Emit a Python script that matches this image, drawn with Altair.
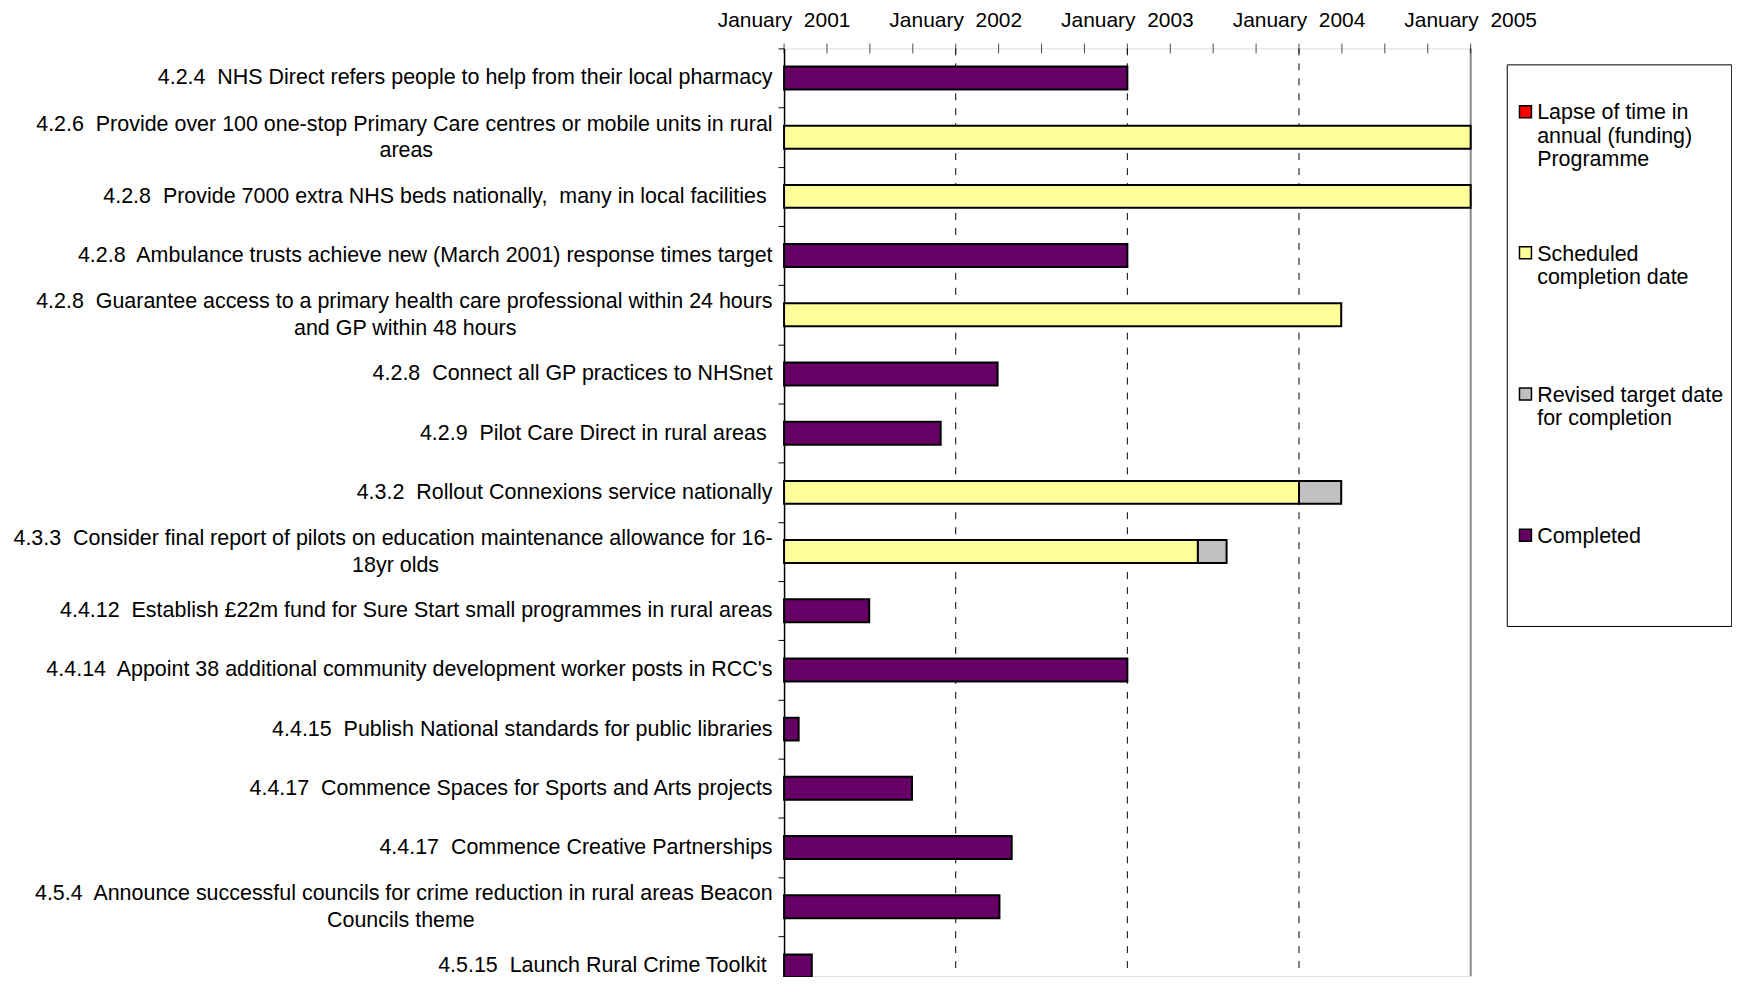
import altair as alt
import pandas as pd

FONT = "Liberation Sans"

# ---------------- data ----------------
tasks = [
    "4.2.4  NHS Direct refers people to help from their local pharmacy",
    "4.2.6  Provide over 100 one-stop Primary Care centres or mobile units in rural|areas",
    "4.2.8  Provide 7000 extra NHS beds nationally,  many in local facilities ",
    "4.2.8  Ambulance trusts achieve new (March 2001) response times target",
    "4.2.8  Guarantee access to a primary health care professional within 24 hours|and GP within 48 hours",
    "4.2.8  Connect all GP practices to NHSnet",
    "4.2.9  Pilot Care Direct in rural areas ",
    "4.3.2  Rollout Connexions service nationally",
    "4.3.3  Consider final report of pilots on education maintenance allowance for 16-|18yr olds",
    "4.4.12  Establish £22m fund for Sure Start small programmes in rural areas",
    "4.4.14  Appoint 38 additional community development worker posts in RCC's",
    "4.4.15  Publish National standards for public libraries",
    "4.4.17  Commence Spaces for Sports and Arts projects",
    "4.4.17  Commence Creative Partnerships",
    "4.5.4  Announce successful councils for crime reduction in rural areas Beacon|Councils theme",
    "4.5.15  Launch Rural Crime Toolkit ",
]

status_names = [
    "Lapse of time in annual (funding) Programme",
    "Scheduled completion date",
    "Revised target date for completion",
    "Completed",
]
status_colors = ["#FF0000", "#FFFF99", "#C0C0C0", "#660066"]
legend_lines = [
    ["Lapse of time in", "annual (funding)", "Programme", ""],
    ["Scheduled", "completion date", "", ""],
    ["Revised target date", "for completion", "", ""],
    ["Completed", "", "", ""],
]

start_date = "2001-01-01"
first_status = [
    "Completed", "Scheduled completion date", "Scheduled completion date", "Completed",
    "Scheduled completion date", "Completed", "Completed", "Scheduled completion date",
    "Scheduled completion date", "Completed", "Completed", "Completed",
    "Completed", "Completed", "Completed", "Completed",
]
first_end = [
    "2003-01-01", "2005-01-01", "2005-01-01", "2003-01-01",
    "2004-03-31", "2002-03-31", "2001-11-30", "2004-01-01",
    "2003-05-31", "2001-07-01", "2003-01-01", "2001-02-01",
    "2001-09-30", "2002-04-30", "2002-04-04", "2001-03-01",
]
revised_end = [
    None, None, None, None,
    None, None, None, "2004-03-31",
    "2003-07-31", None, None, None,
    None, None, None, None,
]

grid_years = [2002, 2003, 2004]
end_year = [2005]
axis_years = [2001, 2002, 2003, 2004, 2005]
axis_labels = ["January\u00a0 2001", "January\u00a0 2002", "January\u00a0 2003",
               "January\u00a0 2004", "January\u00a0 2005"]
quarter_ticks = [2001 + q / 4 for q in range(17)]

# ---------------- helpers ----------------
def year_frac(s):
    d = pd.Timestamp(s)
    days = 366 if d.is_leap_year else 365
    return d.year + (d.dayofyear - 1) / days


_W = {}
for chars, w in [("'", 191), ("ijl", 222), (" !,./:;Ift\u00a0", 278), ("()-r", 333),
                 ("Jckvxyzs", 500), ("+<=>", 584), ("FTZ", 611), ("ABEKPSVXY", 667),
                 ("CDHNRUw", 722), ("GOQ", 778), ("Mm", 833), ("%", 889), ("W", 944)]:
    for c in chars:
        _W[c] = w


def text_w(s):
    return sum(_W.get(c, 556) for c in s)


KEEP = "\u2060"  # word joiner: keeps trailing no-break spaces from being trimmed


def fmt(label):
    lines = [l.replace("  ", "\u00a0 ") for l in label.split("|")]
    lines = [l[:-1] + "\u00a0" + KEEP if l.endswith(" ") else l for l in lines]
    if len(lines) == 2:
        n = round((text_w(lines[0]) - text_w(lines[1])) / 2 / 278)
        lines[1] = lines[1] + "\u00a0" * n + KEEP
    return "|".join(lines)


order = [fmt(t) for t in tasks]
rows = []
for lab, s, e, r in zip(order, first_status, first_end, revised_end):
    rows.append({"task": lab, "status": s, "start": year_frac(start_date), "end": year_frac(e)})
    if r:
        rows.append({"task": lab, "status": status_names[2], "start": year_frac(e), "end": year_frac(r)})
df = pd.DataFrame(rows)

# ---------------- scales / axes ----------------
xscale = alt.Scale(domain=[2001, 2005], nice=False, zero=False)
BAND = 59.34
yscale = alt.Scale(domain=order, range=[0, BAND * len(order)], paddingInner=0, paddingOuter=0)

x_axis = alt.Axis(
    orient="top", title=None, values=axis_years, labels=False,
    ticks=False, tickSize=0, domainColor="black", domainWidth=1, grid=False,
)
y_axis = alt.Axis(
    title=None, orient="left", domainColor="black", domainWidth=1.5,
    tickBand="extent", tickSize=6, tickColor="black", tickWidth=1,
    labelPadding=6, labelFontSize=21.5, labelLimit=1500, labelColor="black", labelFont=FONT,
    labelExpr="isString(datum.label) ? split(datum.label, '|') : ''", labelLineHeight=26.6,
    labelAlign="right",
    labelBaseline={"condition": {"test": "isString(datum.label) && indexof(datum.label, '|') >= 0",
                                 "value": "line-bottom"},
                   "value": "middle"},
    labelOverlap=False, grid=False,
)

legend_expr = ""
for name, lines in zip(status_names, legend_lines):
    legend_expr += "datum.label == '" + name + "' ? " + str(lines) + " : "
legend_expr += "datum.label"

legend = alt.Legend(
    orient="none", legendX=724.5, legendY=16, direction="vertical", columns=1,
    title="\u00a0", titleFontSize=16, titlePadding=20.5,
    padding=8, strokeColor="black", fillColor="white",
    labelFontSize=21.5, labelFont=FONT, labelColor="black", labelExpr=legend_expr,
    labelBaseline="alphabetic", labelLimit=1000, labelOffset=1,
    rowPadding=48.5, gridAlign="all",
    symbolType="M-1,-2.3H1V-0.3H-1Z", symbolSize=144,
    symbolStrokeColor="black", symbolStrokeWidth=1.5, symbolOpacity=1,
)

# ---------------- layers ----------------
grid = alt.Chart(pd.DataFrame({"year": grid_years})).mark_rule(
    color="black", strokeWidth=1, strokeDash=[7, 8]
).encode(x=alt.X("year:Q", scale=xscale, axis=None))

end_rule = alt.Chart(pd.DataFrame({"year": end_year})).mark_rule(
    color="#8c8c8c", strokeWidth=2
).encode(x=alt.X("year:Q", scale=xscale, axis=None))

bars = alt.Chart(df).mark_bar(size=23, stroke="black", strokeWidth=2).encode(
    x=alt.X("start:Q", scale=xscale, axis=x_axis),
    x2="end:Q",
    y=alt.Y("task:N", scale=yscale, axis=y_axis, sort=None),
    color=alt.Color("status:N", scale=alt.Scale(domain=status_names, range=status_colors), legend=legend),
)

xticks = alt.Chart(pd.DataFrame({"year": quarter_ticks})).mark_tick(
    color="black", thickness=1, size=10, orient="vertical"
).encode(x=alt.X("year:Q", scale=xscale, axis=None), y=alt.value(0))

xlabels = alt.Chart(pd.DataFrame({"year": axis_years, "label": axis_labels})).mark_text(
    font=FONT, fontSize=21, color="black", align="center", baseline="middle"
).encode(x=alt.X("year:Q", scale=xscale, axis=None), y=alt.value(-27.5), text="label:N")

chart = alt.layer(grid, end_rule, bars, xticks, xlabels).properties(
    width=688.3,
    height=930,
    autosize=alt.AutoSizeParams(type="none"),
    padding={"left": 778, "top": 39.3, "right": 262, "bottom": 0},
).configure_view(stroke=None).configure(font=FONT)

chart.save("out.html", embed_options={"renderer": "svg", "actions": False})
